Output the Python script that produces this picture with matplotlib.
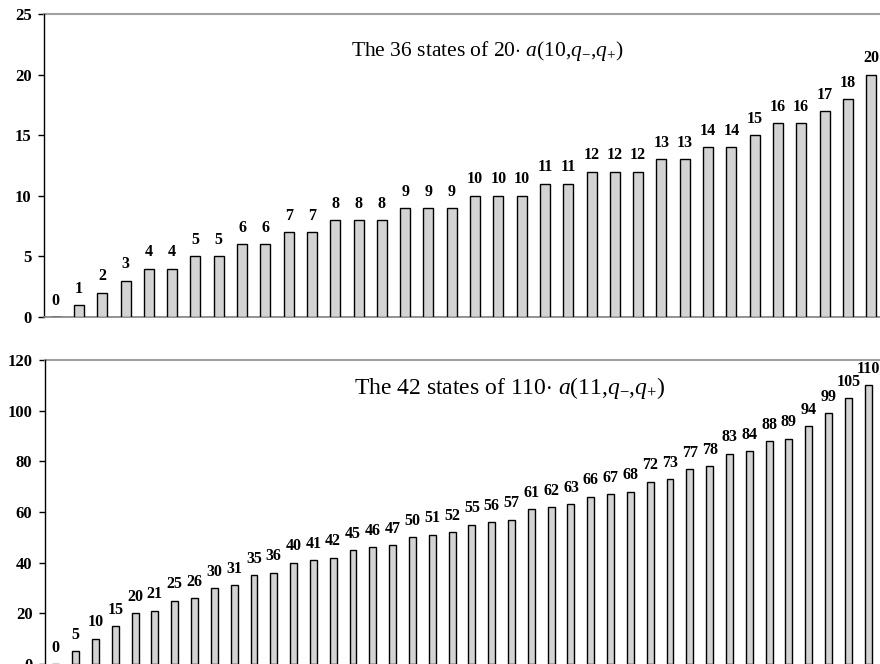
import numpy as np
import matplotlib
matplotlib.use("Agg")
import matplotlib.pyplot as plt

plt.rcParams['font.family'] = ['Liberation Serif', 'DejaVu Serif']
plt.rcParams['mathtext.fontset'] = 'custom'
plt.rcParams['mathtext.rm'] = 'Liberation Serif'
plt.rcParams['mathtext.it'] = 'Liberation Serif:italic'

# data
states_10 = [0, 1, 2, 3, 4, 4, 5, 5, 6, 6, 7, 7, 8, 8, 8, 9, 9, 9, 10, 10, 10,
             11, 11, 12, 12, 12, 13, 13, 14, 14, 15, 16, 16, 17, 18, 20]
states_11 = [0, 5, 10, 15, 20, 21, 25, 26, 30, 31, 35, 36, 40, 41, 42, 45, 46, 47,
             50, 51, 52, 55, 56, 57, 61, 62, 63, 66, 67, 68, 72, 73, 77, 78, 83, 84,
             88, 89, 94, 99, 105, 110]
title_10 = r"The 36 states of 20$\cdot$ $a$(10,$q_{-}$,$q_{+}$)"
title_11 = r"The 42 states of 110$\cdot$ $a$(11,$q_{-}$,$q_{+}$)"
yticks_10 = [0, 5, 10, 15, 20, 25]
yticks_11 = [0, 20, 40, 60, 80, 100, 120]

fig = plt.figure(figsize=(8.8, 6.64), dpi=100)
ax1 = fig.add_axes([0.05, 0.5226, 0.95, 0.4563])
ax2 = fig.add_axes([0.0511, -0.0015, 0.9489, 0.4593])


def draw(ax, vals, title, yticks, width, xlim, tpos, tsize):
    x = np.arange(len(vals))
    ax.bar(x, vals, width=width, color='#d3d3d3', edgecolor='black', linewidth=1.0, zorder=3)
    for xi, v in zip(x, vals):
        ax.annotate(str(v), (xi, v), xytext=(0, 6), textcoords='offset points',
                    ha='center', va='bottom', fontsize=11.5, fontweight='bold', zorder=4)
    ax.set_xlim(*xlim)
    ax.set_ylim(yticks[0], yticks[-1])
    ax.set_yticks(yticks)
    ax.set_yticklabels([str(t) for t in yticks], fontsize=12, fontweight='bold')
    ax.set_xticks([])
    ax.axhline(yticks[-1], color='#a0a0a0', linewidth=1.5, zorder=2, clip_on=False)
    for s in ['top', 'right']:
        ax.spines[s].set_visible(False)
    ax.spines['bottom'].set_color('#808080')
    ax.spines['bottom'].set_linewidth(1.2)
    ax.spines['left'].set_linewidth(1.0)
    ax.tick_params(axis='y', length=4, width=1, pad=5, direction='out')
    ax.text(tpos[0], tpos[1], title, transform=ax.transAxes, ha='center', va='center',
            fontsize=tsize)


draw(ax1, states_10, title_10, yticks_10, 0.43, (-0.5, 35.38), (0.53, 0.878), 15.5)
draw(ax2, states_11, title_11, yticks_11, 0.35, (-0.55, 41.6), (0.557, 0.908), 17)
ax2.set_ylim(-0.4, 120)

fig.savefig("out.png", dpi=100)
